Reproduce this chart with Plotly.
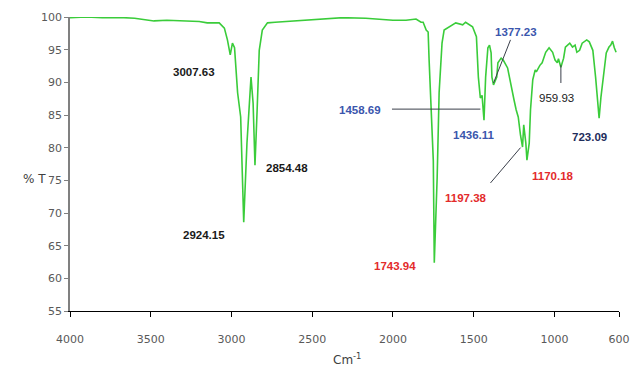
import plotly.graph_objects as go

# Spectrum (wavenumber cm-1, %T)
wavenumber = [4000, 3900, 3800, 3700, 3600, 3550, 3480, 3400, 3300, 3200, 3150, 3076,
              3044, 3025, 3007.63, 2994, 2981, 2962, 2943, 2924.15, 2904, 2879, 2866,
              2854.48, 2841, 2828, 2809, 2777, 2730, 2524, 2312, 2168, 2000, 1919, 1857,
              1826, 1813, 1794, 1782, 1776, 1750, 1743.94, 1726, 1714, 1696, 1683, 1653,
              1611, 1568, 1550, 1507, 1483, 1471, 1458.69, 1448, 1436.11, 1426, 1412,
              1402, 1392, 1387, 1377.23, 1357, 1350, 1330, 1317, 1290, 1270, 1250, 1237,
              1224, 1210, 1197.38, 1190, 1177, 1170.18, 1156, 1148, 1134, 1119, 1112,
              1090, 1076, 1054, 1033, 1011, 996, 982, 975, 959.93, 943, 932, 916, 905,
              888, 872, 861, 844, 828, 800, 784, 762, 745, 723.09, 712, 696, 679, 662,
              651, 640, 635, 629, 618]
transmittance = [99.9, 100.0, 99.9, 99.95, 99.8, 99.6, 99.4, 99.5, 99.45, 99.3, 99.1, 99.1,
                 98.3, 96.5, 94.2, 96.0, 95.3, 88.4, 84.7, 68.6, 80.7, 90.8, 86.8,
                 77.3, 85.8, 94.9, 98.0, 99.1, 99.2, 99.5, 99.9, 99.8, 99.5, 99.5, 99.7,
                 99.2, 99.2, 98.0, 97.7, 93.4, 78.0, 62.4, 75.5, 88.4, 96.0, 98.0, 98.5,
                 99.1, 98.8, 99.2, 98.5, 97.0, 90.8, 87.6, 88.0, 84.2, 90.8, 95.3,
                 95.7, 94.5, 90.8, 89.6, 90.8, 93.0, 93.7, 93.4, 92.2, 90.0, 87.3, 85.8,
                 84.7, 81.9, 80.1, 83.5, 80.7, 78.1, 80.7, 85.8, 90.4, 91.9, 91.6,
                 92.6, 93.0, 94.6, 95.3, 94.6, 93.4, 93.0, 93.6, 92.3, 93.7, 95.4, 95.7, 96.0,
                 95.4, 95.7, 94.6, 94.9, 96.0, 96.5, 96.2, 94.9, 90.8, 84.5, 87.7, 90.8, 94.5, 95.4,
                 95.7, 96.3, 95.6, 95.3, 94.6]

x_ticks = [4000, 3500, 3000, 2500, 2000, 1500, 1000, 600]
y_ticks = [55, 60, 65, 70, 75, 80, 85, 90, 95, 100]

# Peak labels
peak_labels = ["3007.63", "2854.48", "2924.15", "1743.94", "1197.38", "1170.18",
               "1458.69", "1436.11", "1377.23", "959.93", "723.09"]
label_x = [3232, 2656, 3170, 1987, 1548, 1009, 2204, 1498, 1238, 990, 780]
label_y = [91.6, 76.9, 66.6, 61.9, 72.3, 75.7, 85.8, 81.9, 97.7, 87.6, 81.6]
label_color = ["#1a1a1a", "#1a1a1a", "#1a1a1a", "#e32b2b", "#e32b2b", "#e32b2b",
               "#3b56ad", "#3b56ad", "#3b56ad", "#1a1a1a", "#1f2d5c"]
label_bold = [True, True, True, True, True, True, True, True, True, False, True]

fig = go.Figure()
fig.add_trace(go.Scatter(x=wavenumber, y=transmittance, mode="lines",
                         line=dict(color="#3acc3a", width=1.6), showlegend=False,
                         hoverinfo="x+y"))

for t, x, y, c, b in zip(peak_labels, label_x, label_y, label_color, label_bold):
    fig.add_annotation(x=x, y=y, xref="x", yref="y", text=(f"<b>{t}</b>" if b else t),
                       showarrow=False,
                       font=dict(family="Liberation Sans, Arial, sans-serif", size=11.5, color=c))

line_col = "#3a3f4a"
# connector lines
fig.add_shape(type="line", x0=2006, y0=85.9, x1=1458.69, y1=85.9, xref="x", yref="y",
              line=dict(color=line_col, width=1))
fig.add_shape(type="line", x0=1272, y0=96.5, x1=1377.23, y1=89.9, xref="x", yref="y",
              line=dict(color=line_col, width=1))
fig.add_shape(type="line", x0=1396, y0=74.6, x1=1210, y1=80.0, xref="x", yref="y",
              line=dict(color=line_col, width=1))
fig.add_shape(type="line", x0=959.93, y0=92.65, x1=959.93, y1=89.9, xref="x", yref="y",
              line=dict(color=line_col, width=1))

L, R, T, B = 70, 12, 17, 59
W, H = 631, 370
pw, ph = W - L - R, H - T - B

fig.add_annotation(x=(21 - L) / pw, y=(H - B - 179) / ph, xref="paper", yref="paper",
                   text="% T", showarrow=False,
                   font=dict(family="DejaVu Sans", size=12, color="#404040"))
fig.add_annotation(x=(347 - L) / pw, y=-(B - 1) / ph, yanchor="bottom",
                   xref="paper", yref="paper",
                   text="Cm<sup>-1</sup>", showarrow=False,
                   font=dict(family="DejaVu Sans", size=12, color="#404040"))

fig.update_layout(
    width=W, height=H,
    margin=dict(l=L, r=R, t=T, b=B),
    paper_bgcolor="white", plot_bgcolor="white",
    font=dict(family="DejaVu Sans, sans-serif", size=11, color="#595959"),
    xaxis=dict(range=[4000, 600], tickmode="array", tickvals=x_ticks,
               ticktext=[str(v) for v in x_ticks], showgrid=False, zeroline=False,
               showline=True, linecolor="#000000", linewidth=1, automargin=False,
               ticks="outside", ticklen=5, tickcolor="#000000",
               ticklabelstandoff=13),
    yaxis=dict(range=[55, 100], tickmode="array", tickvals=y_ticks, automargin=False,
               showgrid=False, zeroline=False, showline=True, linecolor="#808080",
               linewidth=1.5, ticks="outside", ticklen=4, tickcolor="#808080"),
)

# remove the browser's default 8px page margin so the 631x370 figure fills the window
fig.write_html("out.html", config={"displayModeBar": False},
               post_script="document.body.style.margin='0px';")
